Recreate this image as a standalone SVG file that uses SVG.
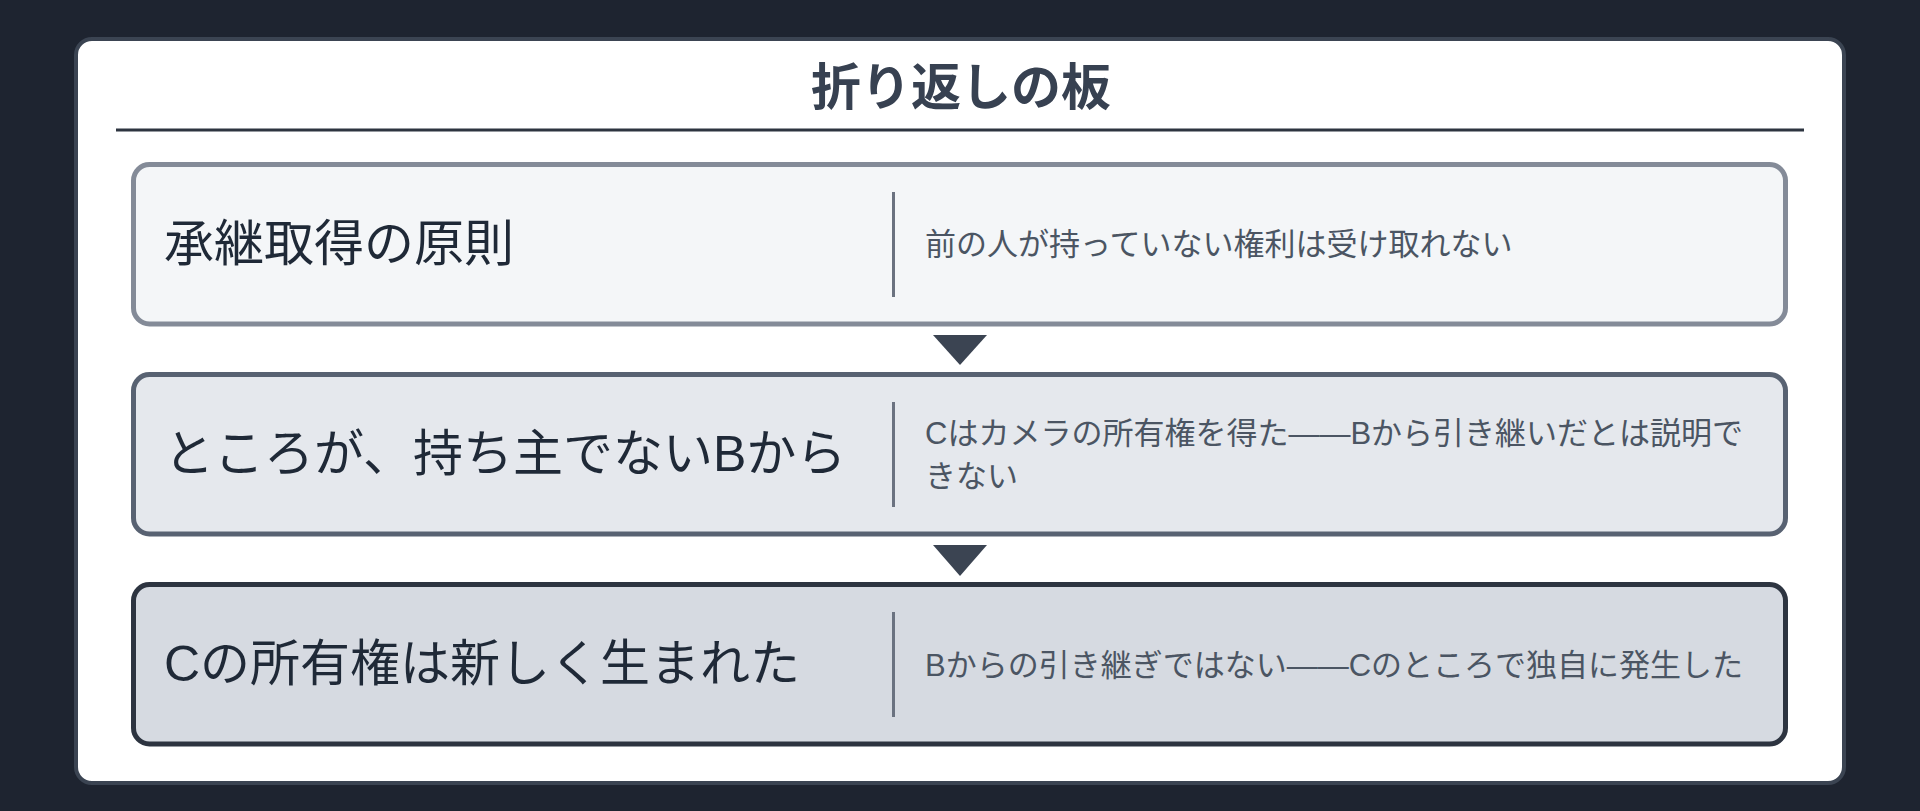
<svg xmlns="http://www.w3.org/2000/svg" width="1920" height="811" viewBox="0 0 1920 811">
<style>
.title{font-family:"Liberation Sans","Noto Sans CJK JP",sans-serif;font-size:50px;font-weight:700;fill:#374151}
.head{font-family:"Liberation Sans","Noto Sans CJK JP",sans-serif;font-size:50px;font-weight:400;fill:#1f2937}
.desc{font-family:"Liberation Sans","Noto Sans CJK JP",sans-serif;font-size:31px;font-weight:400;fill:#4b5563}
.div{stroke:#6b7280;stroke-width:3}
.arrow{fill:#3b4452}
</style>
<rect x="0" y="0" width="1920" height="811" fill="#1e2430"/>
<g id="card">
<rect x="76" y="39" width="1768" height="744" rx="16" fill="#ffffff" stroke="#3b4452" stroke-width="4"/>
<text class="title" x="961" y="105" text-anchor="middle">折り返しの板</text>
<line x1="116" y1="130" x2="1804" y2="130" stroke="#2d3440" stroke-width="3"/>
</g>
<g id="connectors">
<polygon class="arrow" points="933,335 987,335 960,365"/>
<polygon class="arrow" points="933,545 987,545 960,576"/>
</g>
<g id="node1">
<rect x="133.5" y="164.5" width="1652" height="159.5" rx="16" fill="#f4f6f8" stroke="#848b98" stroke-width="5"/>
<line class="div" x1="893.5" y1="192" x2="893.5" y2="297"/>
<text class="head" x="164" y="261">承継取得の原則</text>
<text class="desc" x="925" y="255">前の人が持っていない権利は受け取れない</text>
</g>
<g id="node2">
<rect x="133.5" y="374.5" width="1652" height="159.5" rx="16" fill="#e5e8ed" stroke="#586272" stroke-width="5"/>
<line class="div" x1="893.5" y1="402" x2="893.5" y2="507"/>
<text class="head" x="164" y="471">ところが、持ち主でないBから</text>
<text class="desc" x="925" y="444">Cはカメラの所有権を得た——Bから引き継いだとは説明で</text>
<text class="desc" x="925" y="487">きない</text>
</g>
<g id="node3">
<rect x="133.5" y="584.5" width="1652" height="159.5" rx="16" fill="#d6dae1" stroke="#2d3440" stroke-width="5"/>
<line class="div" x1="893.5" y1="612" x2="893.5" y2="717"/>
<text class="head" x="164" y="681">Cの所有権は新しく生まれた</text>
<text class="desc" x="925" y="676">Bからの引き継ぎではない——Cのところで独自に発生した</text>
</g>
</svg>
